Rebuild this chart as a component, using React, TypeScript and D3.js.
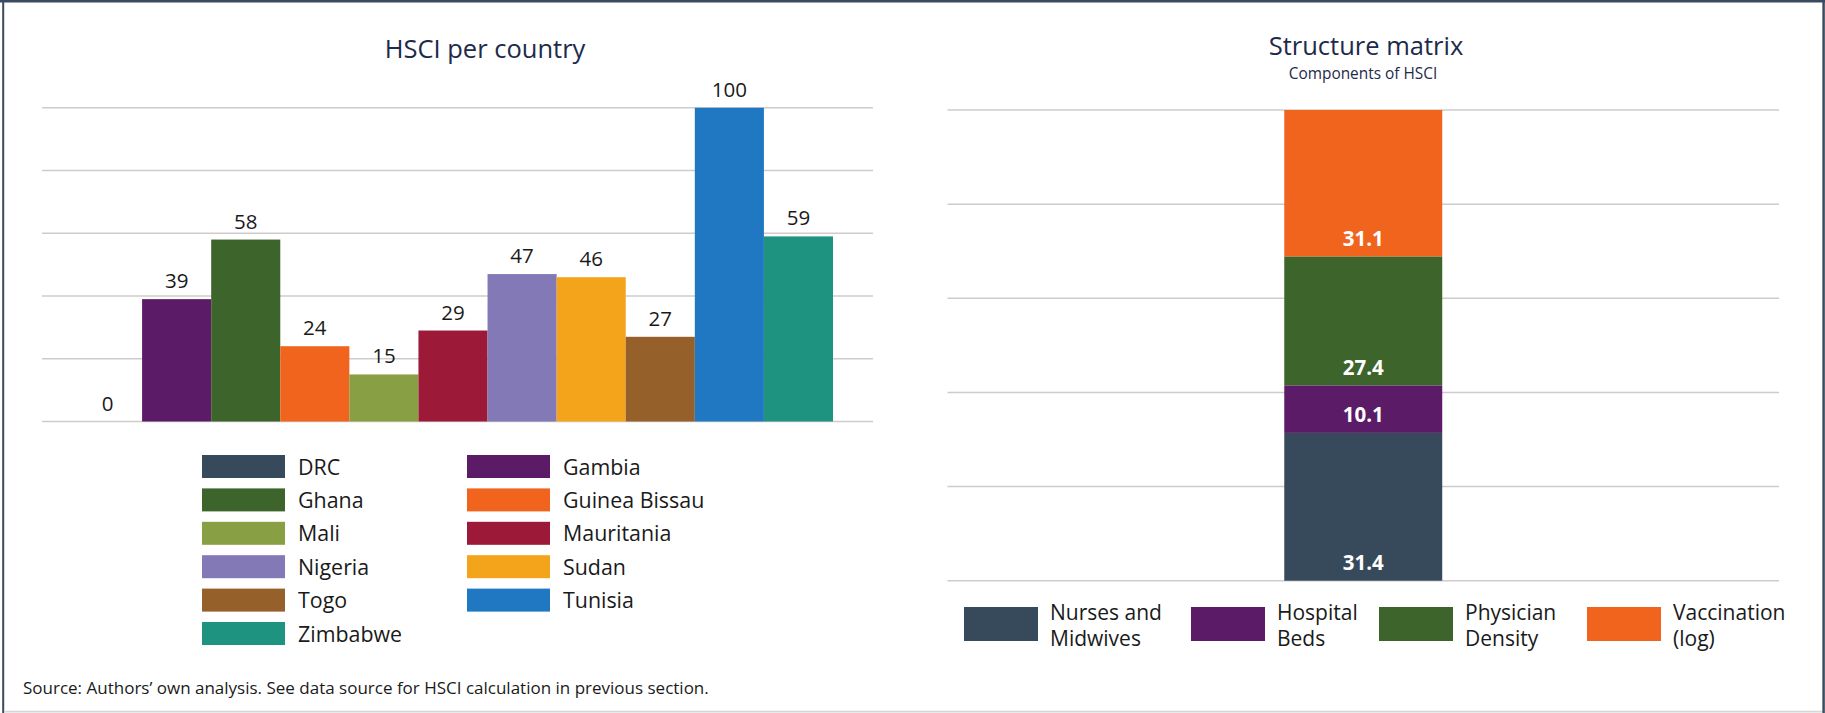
import React from "react";
import * as d3 from "d3";

const countries = ["DRC", "Gambia", "Ghana", "Guinea Bissau", "Mali", "Mauritania", "Nigeria", "Sudan", "Togo", "Tunisia", "Zimbabwe"];
const hsciValues = [0, 39, 58, 24, 15, 29, 47, 46, 27, 100, 59];
const countryColors = ["#374a5c", "#5c1b66", "#3d652b", "#f0641e", "#88a043", "#9c1a38", "#8379b7", "#f4a41b", "#96602a", "#1f78c1", "#1e9380"];
const leftTicks = [0, 20, 40, 60, 80, 100];

const components = ["Nurses and Midwives", "Hospital Beds", "Physician Density", "Vaccination (log)"];
const componentLines = [["Nurses and", "Midwives"], ["Hospital", "Beds"], ["Physician", "Density"], ["Vaccination", "(log)"]];
const componentValues = [31.4, 10.1, 27.4, 31.1];
const componentColors = ["#374a5c", "#5c1b66", "#3d652b", "#f0641e"];
const rightTicks = [0, 20, 40, 60, 80, 100];

const W = 1825;
const H = 713;
const FONT = "'Open Sans', 'Noto Sans', sans-serif";
const TITLE_COLOR = "#1d2a4b";
const TEXT_COLOR = "#1a1a1a";
const GRID_COLOR = "#cfcbcb";

// layout
const L = { gridX0: 42, gridX1: 873, barX0: 73, barX1: 833, yTop: 107.8, yBase: 421.5 };
const R = { x0: 947.5, x1: 1779, yTop: 110, yBase: 580.7 };
const rightLegendX = [964, 1191, 1379, 1587];

export default function App() {
  const xL = d3.scaleBand<string>().domain(countries).range([L.barX0, L.barX1]).padding(0);
  const yL = d3.scaleLinear().domain([0, 100]).range([L.yBase, L.yTop]);

  const xR = d3.scaleBand<string>().domain(["HSCI"]).range([R.x0, R.x1]).padding(0.6807);
  const yR = d3.scaleLinear().domain([0, 100]).range([R.yBase, R.yTop]);

  const stackData = [Object.fromEntries(components.map((c, i) => [c, componentValues[i]]))];
  const series = d3.stack<any>().keys(components)(stackData as any);

  const bx = xR("HSCI") as number;
  const bw = xR.bandwidth();

  return (
    <div style={{ position: "fixed", left: 0, top: 0 }}>
      <svg width={W} height={H} style={{ display: "block", background: "#fff" }} fontFamily={FONT}>
        {/* frame */}
        <line x1={0} x2={W} y1={1.2} y2={1.2} stroke="#3a4b5d" strokeWidth={2.5} />
        <line x1={3.2} x2={3.2} y1={0} y2={H} stroke="#3a4b5d" strokeWidth={2} />
        <line x1={1823.6} x2={1823.6} y1={0} y2={H} stroke="#3a4b5d" strokeWidth={2.5} />
        <line x1={4} x2={1822} y1={711.6} y2={711.6} stroke="#d6d6d6" strokeWidth={1.6} />

        {/* LEFT CHART */}
        <text x={485} y={58} textAnchor="middle" fontSize={25.5} fill={TITLE_COLOR}>HSCI per country</text>
        {leftTicks.map((t) => (
          <line key={t} x1={L.gridX0} x2={L.gridX1} y1={yL(t)} y2={yL(t)} stroke={GRID_COLOR} strokeWidth={1.5} />
        ))}
        {countries.map((c, i) => (
          <rect key={c} x={xL(c)} y={yL(hsciValues[i])} width={xL.bandwidth()} height={yL(0) - yL(hsciValues[i])} fill={countryColors[i]} />
        ))}
        {countries.map((c, i) => (
          <text key={c} x={(xL(c) as number) + xL.bandwidth() / 2} y={yL(hsciValues[i]) - 11} textAnchor="middle" fontSize={20.5} fill={TEXT_COLOR}>
            {hsciValues[i]}
          </text>
        ))}
        {countries.map((c, i) => {
          const col = i % 2;
          const row = Math.floor(i / 2);
          const x = col === 0 ? 202 : 467;
          const y = 455 + row * 33.4;
          return (
            <g key={c}>
              <rect x={x} y={y} width={83} height={23} fill={countryColors[i]} />
              <text x={x + 96} y={y + 19.5} fontSize={21.4} fill={TEXT_COLOR}>{c}</text>
            </g>
          );
        })}
        <text x={23} y={694} fontSize={17} fill={TEXT_COLOR}>
          Source: Authors’ own analysis. See data source for HSCI calculation in previous section.
        </text>

        {/* RIGHT CHART */}
        <text x={1366} y={55} textAnchor="middle" fontSize={25.5} fill={TITLE_COLOR}>Structure matrix</text>
        <text x={1363} y={79} textAnchor="middle" fontSize={15.4} fill={TITLE_COLOR}>Components of HSCI</text>
        {rightTicks.map((t) => (
          <line key={t} x1={R.x0} x2={R.x1} y1={yR(t)} y2={yR(t)} stroke={GRID_COLOR} strokeWidth={1.5} />
        ))}
        {series.map((s, i) => (
          <rect key={components[i]} x={bx} y={yR(s[0][1])} width={bw} height={yR(s[0][0]) - yR(s[0][1])} fill={componentColors[i]} />
        ))}
        {series.map((s, i) => (
          <text key={components[i]} x={bx + bw / 2} y={yR(s[0][0]) - 10.5} textAnchor="middle" fontSize={20.5} fontWeight="bold" fill="#ffffff">
            {componentValues[i].toFixed(1)}
          </text>
        ))}
        {components.map((c, i) => (
          <g key={c}>
            <rect x={rightLegendX[i]} y={607} width={74} height={34} fill={componentColors[i]} />
            {componentLines[i].map((ln, j) => (
              <text key={j} x={rightLegendX[i] + 86} y={620 + j * 25.7} fontSize={21} fill={TEXT_COLOR}>{ln}</text>
            ))}
          </g>
        ))}
      </svg>
    </div>
  );
}
